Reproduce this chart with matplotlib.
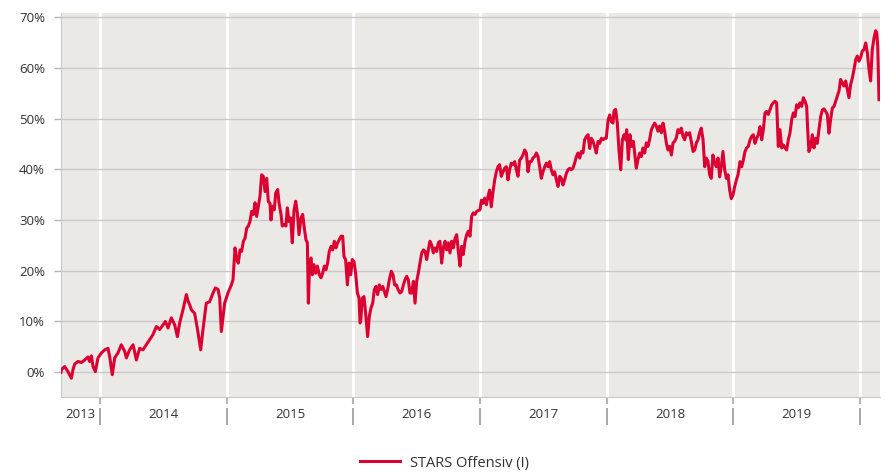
import matplotlib
matplotlib.use("Agg")
import matplotlib.pyplot as plt

plt.rcParams['font.family'] = ['Open Sans', 'DejaVu Sans']

# time in decimal years, performance in %
t_2013 = [2013.692, 2013.695, 2013.721, 2013.747, 2013.774, 2013.787, 2013.800, 2013.826, 2013.853, 2013.879,
          2013.905, 2013.918, 2013.932, 2013.945, 2013.963, 2013.984]
v_2013 = [0.0, 0.5, 1.1, 0.1, -1.2, 0.5, 1.6, 2.1, 1.9, 2.4,
          3.0, 2.1, 3.2, 1.1, 0.1, 2.8]

t_2014 = [2014.011, 2014.037, 2014.063, 2014.076,
          2014.097, 2014.116, 2014.142, 2014.168, 2014.195, 2014.208, 2014.234, 2014.261, 2014.287, 2014.313,
          2014.339, 2014.366, 2014.392, 2014.418, 2014.445, 2014.471, 2014.497, 2014.516, 2014.537, 2014.563,
          2014.590, 2014.611, 2014.629, 2014.655, 2014.682, 2014.695, 2014.708, 2014.721, 2014.747, 2014.768,
          2014.795, 2014.813, 2014.839, 2014.866, 2014.892, 2014.911, 2014.932, 2014.945, 2014.958, 2014.984]
v_2014 = [3.8, 4.4, 4.7, 3.1,
          -0.5, 2.8, 3.8, 5.4, 4.1, 2.8, 4.4, 5.4, 2.4, 4.7,
          4.4, 5.4, 6.4, 7.4, 9.0, 8.4, 9.3, 10.0, 8.7, 10.7,
          9.3, 7.0, 9.7, 12.3, 15.3, 14.0, 13.3, 12.3, 11.6, 8.7,
          4.4, 8.4, 13.6, 13.9, 15.6, 16.6, 16.3, 14.6, 8.0, 13.6]

t_2015 = [2015.010, 2015.037, 2015.050,
          2015.066, 2015.079, 2015.092, 2015.105, 2015.118, 2015.132, 2015.145, 2015.158, 2015.171, 2015.184,
          2015.197, 2015.211, 2015.224, 2015.237, 2015.250, 2015.263, 2015.276, 2015.289, 2015.303, 2015.316,
          2015.329, 2015.342, 2015.350, 2015.361, 2015.376, 2015.387, 2015.403, 2015.413, 2015.429, 2015.439,
          2015.455, 2015.468, 2015.479, 2015.492, 2015.505, 2015.518, 2015.532, 2015.545, 2015.558, 2015.571,
          2015.587, 2015.600, 2015.613, 2015.626, 2015.637, 2015.645, 2015.655, 2015.666, 2015.676, 2015.689,
          2015.703, 2015.716, 2015.732, 2015.745, 2015.758, 2015.771, 2015.784, 2015.797, 2015.810, 2015.824,
          2015.837, 2015.850, 2015.863, 2015.876, 2015.889, 2015.903, 2015.916, 2015.926, 2015.939, 2015.953,
          2015.966, 2015.979, 2015.992]
v_2015 = [15.6, 17.2, 18.2,
          24.5, 22.2, 21.5, 24.1, 23.8, 25.8, 26.4, 28.4, 28.8, 29.7,
          31.7, 31.1, 33.4, 30.7, 32.7, 34.7, 38.9, 38.6, 35.6, 38.2,
          33.6, 33.3, 30.0, 32.7, 32.0, 35.3, 36.0, 33.4, 31.1, 28.8,
          29.1, 28.8, 32.4, 29.7, 30.4, 25.5, 32.0, 33.7, 31.4, 27.1,
          30.4, 31.1, 28.4, 26.1, 25.5, 13.6, 21.5, 22.5, 19.2, 21.2,
          19.5, 20.9, 19.2, 18.6, 19.5, 20.9, 20.2, 21.5, 23.8, 24.8,
          24.1, 25.8, 24.5, 25.5, 26.1, 26.8, 26.8, 22.8, 22.2, 17.2,
          21.5, 19.2, 22.2]

t_2016 = [2016.005, 2016.018, 2016.032, 2016.045, 2016.053,
          2016.058, 2016.071, 2016.084, 2016.097, 2016.113, 2016.126, 2016.139, 2016.153, 2016.166, 2016.179,
          2016.192, 2016.205, 2016.218, 2016.232, 2016.245, 2016.258, 2016.271, 2016.284, 2016.300, 2016.313,
          2016.326, 2016.340, 2016.353, 2016.368, 2016.382, 2016.395, 2016.408, 2016.421, 2016.434, 2016.447,
          2016.461, 2016.474, 2016.487, 2016.500, 2016.513, 2016.526, 2016.540, 2016.553, 2016.566, 2016.579,
          2016.592, 2016.605, 2016.618, 2016.632, 2016.645, 2016.658, 2016.671, 2016.684, 2016.697, 2016.711,
          2016.724, 2016.737, 2016.750, 2016.763, 2016.776, 2016.790, 2016.803, 2016.816, 2016.829, 2016.842,
          2016.855, 2016.868, 2016.882, 2016.895, 2016.908, 2016.921, 2016.934, 2016.947, 2016.961, 2016.974]
v_2016 = [21.8, 19.5, 15.6, 14.6, 9.7,
          10.0, 14.6, 14.9, 11.6, 7.0, 11.0, 12.6, 13.6, 16.3, 16.9,
          15.3, 17.2, 16.3, 16.9, 15.9, 14.9, 16.3, 18.2, 19.9, 19.2,
          17.2, 17.2, 16.3, 15.6, 15.9, 17.2, 18.2, 18.9, 18.2, 15.6,
          15.6, 17.9, 13.6, 17.9, 19.5, 21.5, 23.5, 24.1, 23.8, 22.2,
          24.1, 25.8, 25.1, 23.5, 24.5, 23.8, 25.5, 25.8, 21.5, 24.5,
          25.8, 24.1, 25.5, 23.5, 25.8, 24.5, 26.4, 27.1, 23.8, 20.9,
          24.8, 23.2, 25.8, 27.1, 27.8, 26.8, 30.7, 31.4, 31.1, 31.7]

t_2017 = [2017.000,
          2017.011, 2017.024, 2017.037, 2017.050, 2017.063, 2017.076, 2017.089, 2017.103, 2017.116, 2017.129,
          2017.142, 2017.155, 2017.168, 2017.182, 2017.195, 2017.208, 2017.221, 2017.234, 2017.247, 2017.261,
          2017.274, 2017.287, 2017.300, 2017.313, 2017.326, 2017.339, 2017.353, 2017.366, 2017.379, 2017.392,
          2017.405, 2017.418, 2017.432, 2017.445, 2017.458, 2017.471, 2017.484, 2017.497, 2017.511, 2017.524,
          2017.537, 2017.550, 2017.563, 2017.576, 2017.589, 2017.603, 2017.616, 2017.629, 2017.642, 2017.655,
          2017.668, 2017.682, 2017.695, 2017.708, 2017.721, 2017.734, 2017.747, 2017.761, 2017.774, 2017.787,
          2017.800, 2017.813, 2017.826, 2017.839, 2017.853, 2017.866, 2017.879, 2017.892, 2017.905, 2017.918,
          2017.932, 2017.945, 2017.958, 2017.971, 2017.984, 2017.997]
v_2017 = [32.0,
          33.9, 33.3, 34.3, 33.0, 34.6, 35.9, 32.6, 35.6, 37.9, 39.5,
          40.5, 40.9, 38.6, 39.5, 40.2, 40.5, 37.9, 39.9, 41.2, 40.9,
          41.5, 39.9, 38.6, 41.8, 42.2, 42.8, 43.8, 43.2, 39.5, 41.5,
          41.5, 42.2, 42.5, 43.2, 42.5, 40.5, 38.2, 39.5, 40.5, 41.2,
          40.5, 41.5, 39.9, 38.9, 39.5, 37.9, 36.6, 38.6, 38.2, 36.9,
          37.9, 39.2, 39.9, 40.2, 39.9, 40.2, 41.2, 42.5, 43.2, 42.2,
          43.5, 43.2, 45.8, 46.4, 46.8, 44.1, 46.1, 45.5, 44.5, 43.2,
          45.5, 45.1, 46.1, 45.8, 46.1, 46.1]

t_2018 = [2018.011, 2018.024, 2018.037, 2018.050,
          2018.058, 2018.071, 2018.084, 2018.097, 2018.111, 2018.124, 2018.137, 2018.150, 2018.158, 2018.171,
          2018.184, 2018.197, 2018.211, 2018.224, 2018.234, 2018.247, 2018.261, 2018.274, 2018.287, 2018.300,
          2018.313, 2018.326, 2018.339, 2018.353, 2018.366, 2018.379, 2018.392, 2018.405, 2018.418, 2018.432,
          2018.445, 2018.458, 2018.471, 2018.484, 2018.497, 2018.511, 2018.524, 2018.537, 2018.550, 2018.563,
          2018.576, 2018.589, 2018.603, 2018.616, 2018.629, 2018.642, 2018.655, 2018.668, 2018.682, 2018.695,
          2018.708, 2018.721, 2018.734, 2018.747, 2018.761, 2018.774, 2018.787, 2018.800, 2018.813, 2018.826,
          2018.839, 2018.853, 2018.866, 2018.879, 2018.892, 2018.905, 2018.918, 2018.932, 2018.945, 2018.958,
          2018.971, 2018.984, 2018.997]
v_2018 = [49.7, 50.7, 49.4, 49.1,
          51.5, 51.8, 49.1, 43.8, 39.9, 45.8, 46.8, 45.8, 47.8, 41.9,
          46.8, 44.5, 45.5, 42.5, 40.2, 41.9, 43.2, 42.5, 44.2, 43.2,
          45.2, 44.5, 45.8, 47.8, 48.5, 49.1, 48.5, 47.5, 48.5, 47.2,
          49.1, 47.5, 45.2, 43.8, 44.5, 42.8, 45.2, 45.5, 46.2, 47.8,
          47.2, 48.1, 46.5, 45.8, 47.2, 46.8, 47.2, 45.5, 43.5, 43.8,
          45.2, 45.8, 47.2, 48.1, 45.8, 40.5, 42.2, 41.5, 38.9, 38.2,
          42.8, 41.2, 40.5, 42.2, 38.5, 40.5, 43.5, 39.9, 38.2, 38.9,
          35.9, 34.2, 34.9]

t_2019 = [2019.011, 2019.024, 2019.037,
          2019.053, 2019.066, 2019.079, 2019.092, 2019.105, 2019.118, 2019.132, 2019.145, 2019.158, 2019.171,
          2019.184, 2019.197, 2019.211, 2019.224, 2019.237, 2019.250, 2019.263, 2019.276, 2019.289, 2019.303,
          2019.316, 2019.329, 2019.342, 2019.355, 2019.368, 2019.382, 2019.395, 2019.408, 2019.421, 2019.434,
          2019.447, 2019.461, 2019.474, 2019.487, 2019.500, 2019.513, 2019.526, 2019.540, 2019.553, 2019.566,
          2019.579, 2019.587, 2019.597, 2019.611, 2019.624, 2019.637, 2019.650, 2019.663, 2019.676, 2019.690,
          2019.703, 2019.716, 2019.729, 2019.742, 2019.755, 2019.768, 2019.782, 2019.795, 2019.808, 2019.821,
          2019.834, 2019.847, 2019.861, 2019.874, 2019.887, 2019.900, 2019.913, 2019.926, 2019.940, 2019.953,
          2019.966, 2019.979, 2019.992]
v_2019 = [36.6, 37.9, 38.9,
          41.5, 40.5, 41.8, 43.5, 44.2, 44.5, 45.8, 46.5, 46.8, 45.1,
          46.1, 46.8, 48.4, 45.8, 47.8, 51.1, 51.4, 50.8, 51.7, 52.7,
          53.1, 53.4, 53.1, 44.5, 47.8, 44.2, 44.8, 44.2, 43.8, 45.8,
          47.1, 49.8, 51.1, 50.4, 52.7, 52.1, 53.1, 52.4, 54.1, 53.4,
          52.4, 47.8, 43.5, 44.5, 46.8, 44.2, 46.1, 45.1, 47.8, 50.4,
          51.7, 51.9, 51.4, 50.8, 47.1, 49.8, 52.1, 52.4, 53.4, 54.4,
          55.4, 57.7, 57.0, 56.4, 57.4, 55.7, 54.1, 56.7, 58.0, 59.7,
          61.6, 62.3, 61.3]

t_2020 = [2020.005, 2020.018, 2020.032, 2020.045, 2020.058, 2020.071, 2020.084,
          2020.097, 2020.111, 2020.124, 2020.132, 2020.140, 2020.150]
v_2020 = [62.0, 63.3, 63.6, 64.9, 63.0, 59.7, 57.4,
          63.6, 65.9, 67.3, 66.9, 64.3, 53.7]

years = t_2013 + t_2014 + t_2015 + t_2016 + t_2017 + t_2018 + t_2019 + t_2020
perf = v_2013 + v_2014 + v_2015 + v_2016 + v_2017 + v_2018 + v_2019 + v_2020

year_bounds = [2014, 2015, 2016, 2017, 2018, 2019, 2020]
year_labels = ['2013', '2014', '2015', '2016', '2017', '2018', '2019']
y_ticks = [0, 10, 20, 30, 40, 50, 60, 70]
series_name = 'STARS Offensiv (I)'

x_start, x_end = 2013.692, 2020.158

fig = plt.figure(figsize=(8.87, 4.73), dpi=100)
ax = fig.add_axes([61 / 887, 76 / 473, 819 / 887, 384 / 473])
ax.set_facecolor('#ebe9e6')

ax.plot(years, perf, color='#dc0032', lw=2.2, label=series_name,
        solid_joinstyle='round', zorder=3)

ax.set_xlim(x_start, x_end)
ax.set_ylim(-4.9, 70.8)

ax.set_yticks(y_ticks)
ax.set_yticklabels([f'{v}%' for v in y_ticks])
ax.yaxis.grid(True, color='#c9c9c9', lw=1)
ax.tick_params(axis='y', length=5, width=1, color='#b5b5b5', pad=6.5,
               labelsize=9.5, labelcolor='#333333')

# year boundaries: white grid lines + ticks, labels centred between
ax.set_xticks(year_bounds)
ax.set_xticklabels([])
ax.xaxis.grid(True, which='major', color='white', lw=2)
ax.tick_params(axis='x', which='major', length=5, width=1.5, color='#b5b5b5')
mids = [(max(b - 1, x_start) + b) / 2 for b in year_bounds]
ax.set_xticks(mids, minor=True)
ax.set_xticklabels(year_labels, minor=True)
ax.tick_params(axis='x', which='minor', length=0, pad=8, labelsize=9.5,
               labelcolor='#333333')
ax.vlines(year_bounds, -0.029, -0.073, transform=ax.get_xaxis_transform(),
          colors='#9a9a9a', lw=1.2, clip_on=False)

for s in ['top', 'right']:
    ax.spines[s].set_visible(False)
for s in ['left', 'bottom']:
    ax.spines[s].set_color('#c9c9c9')
ax.set_axisbelow(True)

leg = fig.legend(loc='center', bbox_to_anchor=(444.5 / 887, 1 - 463 / 473), frameon=False,
                 handlelength=2.7, handletextpad=0.7, fontsize=10.5)
for t in leg.get_texts():
    t.set_color('#333333')

fig.savefig('out.png', dpi=100)
